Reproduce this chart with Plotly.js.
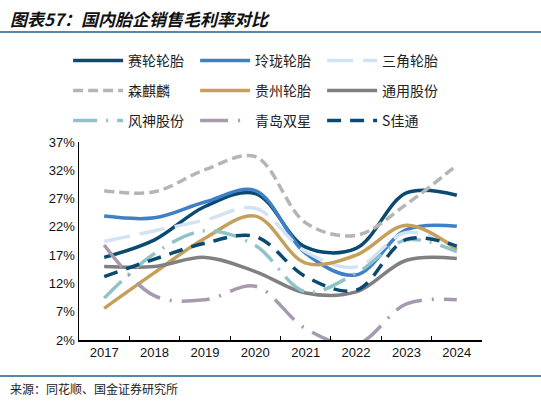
<!DOCTYPE html>
<html>
<head>
<meta charset="utf-8">
<script src="https://cdn.plot.ly/plotly-3.0.1.min.js"></script>
<style>
  html, body { margin: 0; padding: 0; background: #fff; }
  #chart { width: 541px; height: 403px; }
</style>
</head>
<body>
<div id="chart"></div>
<script>
// years on the x axis
const years = ['2017', '2018', '2019', '2020', '2021', '2022', '2023', '2024'];

// gross margin, %
const sailun   = [16.6, 19.7, 25.6, 27.9, 18.4, 18.2, 28.0, 27.6];
const linglong = [23.9, 23.6, 26.4, 28.4, 17.3, 13.5, 21.5, 22.1];
const sanjiao  = [19.4, 21.3, 23.2, 25.3, 17.6, 14.9, 21.0, 18.5];
const senqilin = [28.4, 28.2, 32.1, 34.4, 22.7, 20.5, 26.0, 32.9];
const guizhou  = [7.6, 13.9, 20.0, 23.9, 15.6, 17.0, 22.3, 18.0];
const tongyong = [15.0, 15.0, 16.6, 14.1, 10.3, 10.5, 16.1, 16.4];
const fengshen = [9.4, 17.3, 21.3, 18.7, 10.5, 13.8, 19.7, 17.6];
const qingdao  = [18.8, 9.8, 9.1, 11.5, 4.0, 1.2, 8.4, 9.1];
const sjiatong = [13.2, 16.3, 19.1, 20.3, 13.2, 10.8, 19.8, 18.6];

const names = ['赛轮轮胎', '玲珑轮胎', '三角轮胎', '森麒麟', '贵州轮胎', '通用股份', '风神股份', '青岛双星', 'S佳通'];

const cnFont = '"Noto Sans CJK SC", "Liberation Sans", sans-serif';
const numFont = '"Liberation Sans", Arial, sans-serif';

function line(y, name, color, dash, legend) {
    return {
        x: years,
        y: y,
        name: name,
        mode: 'lines',
        type: 'scatter',
        legend: legend,
        line: {color: color, width: 3.5, dash: dash, shape: 'spline', smoothing: 1},
        hoverinfo: 'skip'
    };
}

const traces = [
    line(sailun,   names[0], '#0b4a70', 'solid', 'legend'),
    line(linglong, names[1], '#3f7fc6', 'solid', 'legend'),
    line(sanjiao,  names[2], '#d2e3f4', '26px,10px', 'legend'),
    line(senqilin, names[3], '#b5b5b5', '10px,5px', 'legend2'),
    line(guizhou,  names[4], '#c4a05a', 'solid', 'legend2'),
    line(tongyong, names[5], '#808080', 'solid', 'legend2'),
    line(fengshen, names[6], '#8fc3c8', '24px,9px,2px,9px', 'legend3'),
    line(qingdao,  names[7], '#a89aae', '28px,10px,2px,10px', 'legend3'),
    line(sjiatong, names[8], '#0b4a70', '14px,9px', 'legend3')
];

function legendRow(y) {
    return {
        orientation: 'h',
        x: -0.027, xanchor: 'left',
        y: y, yanchor: 'middle',
        entrywidth: 62, entrywidthmode: 'pixels',
        itemwidth: 50,
        font: {family: cnFont, size: 14, color: '#222'},
        bgcolor: 'rgba(0,0,0,0)'
    };
}

const layout = {
    width: 541,
    height: 403,
    margin: {l: 79, r: 59, t: 142, b: 63},
    paper_bgcolor: '#fff',
    plot_bgcolor: '#fff',
    showlegend: true,
    legend: legendRow(1.409),
    legend2: legendRow(1.258),
    legend3: legendRow(1.106),
    xaxis: {
        type: 'category',
        range: [-0.5, 7.5],
        showline: true,
        linecolor: '#000',
        linewidth: 1.5,
        showgrid: false,
        zeroline: false,
        ticks: 'inside',
        ticklen: 4,
        tickcolor: '#000',
        tickson: 'boundaries',
        tickfont: {family: numFont, size: 13, color: '#111'}
    },
    yaxis: {
        range: [2, 37],
        dtick: 5,
        tick0: 2,
        ticksuffix: '%',
        showline: true,
        linecolor: '#000',
        linewidth: 1.5,
        showgrid: false,
        zeroline: false,
        ticks: '',
        tickfont: {family: numFont, size: 13, color: '#111'}
    },
    shapes: [
        {type: 'line', xref: 'paper', yref: 'paper', x0: -0.2, x1: 1.15, y0: 1.5556, y1: 1.5556,
         line: {color: '#1f5f8b', width: 1.5}},
        {type: 'line', xref: 'paper', yref: 'paper', x0: -0.2, x1: 1.15, y0: -0.1818, y1: -0.1818,
         line: {color: '#1f5f8b', width: 1.5}}
    ],
    annotations: [
        {text: '<b><i>图表57：国内胎企销售毛利率对比</i></b>', xref: 'paper', yref: 'paper',
         x: -0.176, y: 1.626, xanchor: 'left', yanchor: 'middle', showarrow: false,
         font: {family: cnFont, size: 17, color: '#111'}},
        {text: '来源：同花顺、国金证券研究所', xref: 'paper', yref: 'paper',
         x: -0.176, y: -0.247, xanchor: 'left', yanchor: 'middle', showarrow: false,
         font: {family: cnFont, size: 12, color: '#222'}}
    ]
};

Plotly.newPlot('chart', traces, layout, {staticPlot: true});
</script>
</body>
</html>
